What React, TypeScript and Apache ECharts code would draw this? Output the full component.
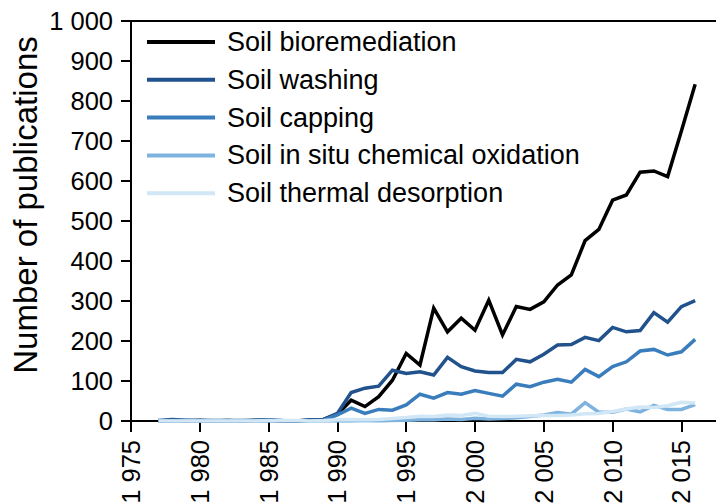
import React, { useEffect, useRef } from "react";
import * as echarts from "echarts";

const years: number[] = [
  1977, 1978, 1979, 1980, 1981, 1982, 1983, 1984, 1985, 1986,
  1987, 1988, 1989, 1990, 1991, 1992, 1993, 1994, 1995, 1996,
  1997, 1998, 1999, 2000, 2001, 2002, 2003, 2004, 2005, 2006,
  2007, 2008, 2009, 2010, 2011, 2012, 2013, 2014, 2015, 2016,
];

const bioremediation: number[] = [
  0, 1, 0, 1, 0, 1, 0, 1, 2, 0,
  0, 2, 4, 17, 52, 36, 61, 102, 169, 140,
  282, 223, 257, 227, 302, 215, 286, 279, 298, 340,
  365, 451, 479, 552, 565, 622, 625, 611, 725, 842,
];

const washing: number[] = [
  1, 4, 2, 2, 1, 1, 1, 2, 3, 1,
  0, 3, 4, 19, 71, 82, 87, 127, 119, 123,
  115, 159, 136, 125, 121, 121, 154, 148, 167, 190,
  191, 209, 201, 234, 223, 226, 271, 247, 286, 301,
];

const capping: number[] = [
  0, 1, 1, 0, 0, 0, 0, 1, 2, 0,
  0, 1, 2, 15, 32, 19, 29, 27, 40, 67,
  57, 71, 67, 76, 69, 62, 92, 86, 97, 104,
  97, 129, 111, 136, 148, 175, 179, 165, 173, 204,
];

const inSituOxidation: number[] = [
  0, 0, 0, 0, 0, 0, 0, 0, 0, 0,
  0, 0, 0, 0, 0, 1, 0, 1, 2, 3,
  3, 5, 4, 7, 5, 6, 8, 11, 15, 21,
  17, 46, 22, 22, 30, 23, 39, 29, 29, 41,
];

const thermalDesorption: number[] = [
  0, 0, 0, 0, 0, 0, 0, 0, 1, 1,
  1, 0, 1, 3, 4, 3, 4, 6, 9, 12,
  11, 15, 14, 19, 12, 11, 12, 13, 14, 14,
  15, 18, 19, 24, 30, 35, 34, 38, 47, 45,
];

const seriesNames: string[] = [
  "Soil bioremediation",
  "Soil washing",
  "Soil capping",
  "Soil in situ chemical oxidation",
  "Soil thermal desorption",
];
const seriesColors: string[] = ["#000000", "#22528c", "#3a7dbd", "#7db3de", "#d2e7f6"];
const seriesValues: number[][] = [bioremediation, washing, capping, inSituOxidation, thermalDesorption];

const FONT = "'Liberation Sans', Arial, Helvetica, sans-serif";

function spaced(v: number): string {
  return String(v).replace(/\B(?=(\d{3})+(?!\d))/g, " ");
}

export default function App() {
  const ref = useRef<HTMLDivElement>(null);

  useEffect(() => {
    if (!ref.current) return;
    const chart = echarts.init(ref.current, undefined, { renderer: "svg" });
    const option: any = {
      animation: false,
      backgroundColor: "#ffffff",
      textStyle: { fontFamily: FONT },
      grid: {
        left: 131,
        top: 21,
        height: 400,
        width: 13.76 * 43,
        outerBoundsMode: "none",
        containLabel: false,
        show: true,
        borderColor: "#000000",
        borderWidth: 2,
        backgroundColor: "transparent",
      },
      legend: {
        left: 142,
        top: 22,
        orient: "vertical",
        icon: "rect",
        itemWidth: 68,
        itemHeight: 4,
        itemGap: 7.8,
        data: seriesNames,
        textStyle: {
          fontFamily: FONT,
          fontSize: 27,
          color: "#000000",
          lineHeight: 30,
          padding: [0, 0, 0, 7],
        },
      },
      xAxis: {
        type: "value",
        min: 1975,
        max: 2018,
        interval: 5,
        axisLine: { show: true, onZero: false, lineStyle: { color: "#000000", width: 2 } },
        axisTick: { show: true, length: 11, lineStyle: { color: "#000000", width: 2 } },
        axisLabel: {
          rotate: 90,
          margin: 19,
          fontSize: 25.5,
          color: "#000000",
          fontFamily: FONT,
          showMaxLabel: false,
          formatter: (v: number) => (v % 5 === 0 ? spaced(v) : ""),
        },
        splitLine: { show: false },
      },
      yAxis: {
        type: "value",
        min: 0,
        max: 1000,
        interval: 100,
        axisLine: { show: true, lineStyle: { color: "#000000", width: 2 } },
        axisTick: { show: true, length: 10, lineStyle: { color: "#000000", width: 2 } },
        axisLabel: {
          margin: 18,
          fontSize: 25.5,
          color: "#000000",
          fontFamily: FONT,
          formatter: (v: number) => spaced(v),
        },
        splitLine: { show: false },
      },
      graphic: [
        {
          type: "text",
          x: 25,
          y: 205,
          rotation: Math.PI / 2,
          style: {
            text: "Number of publications",
            fontFamily: FONT,
            fontSize: 33,
            fill: "#000000",
            align: "center",
            verticalAlign: "middle",
          },
        },
      ],
      series: seriesNames.map((name, i) => ({
        name,
        type: "line",
        data: years.map((y, j) => [y, seriesValues[i][j]]),
        showSymbol: false,
        symbol: "none",
        color: seriesColors[i],
        lineStyle: { color: seriesColors[i], width: 3.5, join: "miter" },
        z: 2 + i,
      })),
    };
    chart.setOption(option);
    return () => chart.dispose();
  }, []);

  return (
    <div
      ref={ref}
      style={{ position: "absolute", left: 0, top: 0, width: 716, height: 504, overflow: "hidden" }}
    />
  );
}
